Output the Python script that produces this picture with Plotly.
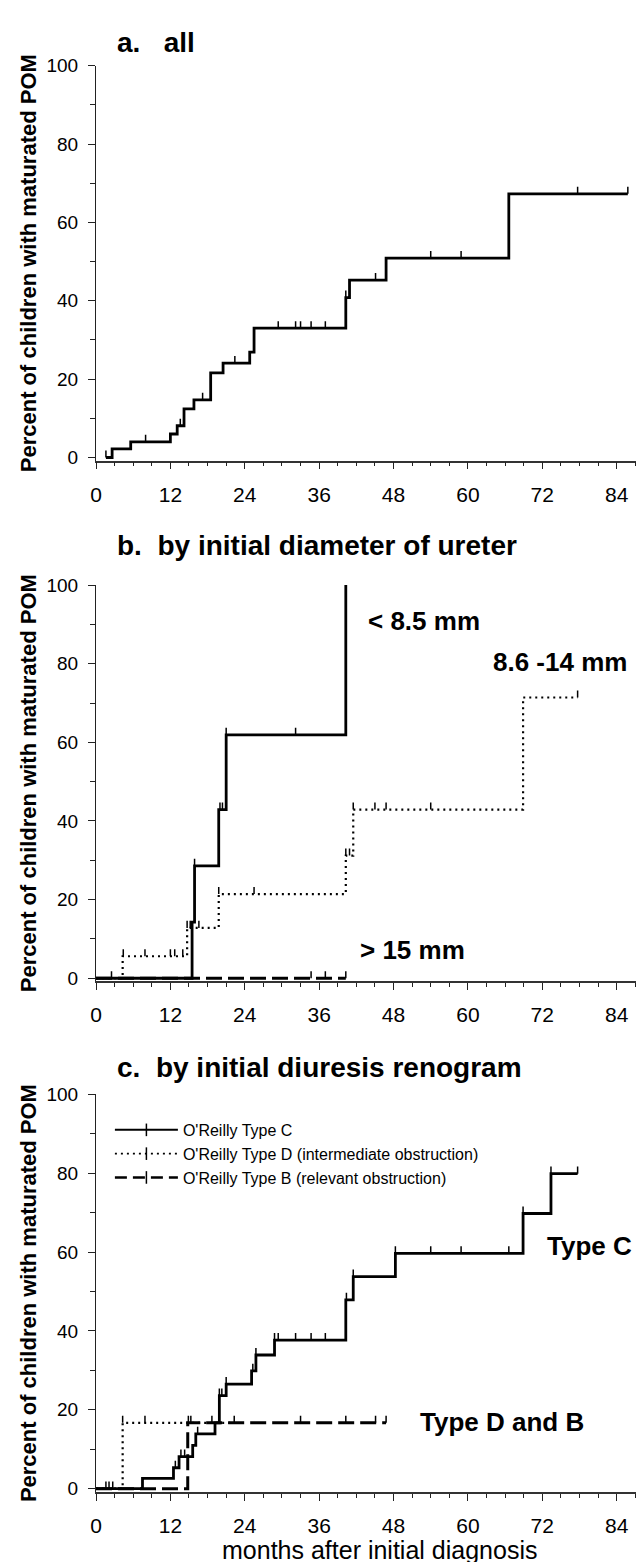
import plotly.graph_objects as go

# ---------------- data ----------------
# Panel a: all children (Kaplan-Meier cumulative incidence, %)
a_times = [1.6, 2.6, 5.6, 12.0, 13.1, 14.2, 15.8, 18.5, 20.5, 24.8, 25.5, 40.3, 40.9, 46.8, 66.6, 85.8]
a_vals = [0, 2.2, 4.0, 6.0, 8.1, 12.4, 14.7, 21.6, 24.1, 26.9, 33.0, 40.8, 45.3, 50.9, 67.3, 67.3]
a_cens = [1.6, 8.0, 13.6, 17.2, 22.4, 29.4, 32.2, 33.0, 34.7, 37.0, 40.3, 45.1, 54.0, 58.9, 77.7, 85.8]

# Panel b: by initial diameter of ureter
b1_times = [0, 15.5, 15.9, 19.8, 21.0, 40.3]          # < 8.5 mm
b1_vals = [0, 14.3, 28.6, 42.9, 61.9, 100]
b1_cens = [2.5, 15.9, 20.0, 20.4, 21.0, 32.2, 40.3]

b2_times = [0, 4.3, 14.7, 19.8, 40.3, 41.5, 68.9, 77.7]  # 8.6 - 14 mm
b2_vals = [0, 5.6, 12.8, 21.4, 31.2, 42.9, 71.4, 71.4]
b2_cens = [4.4, 7.9, 12.0, 12.7, 14.0, 14.7, 15.2, 16.6, 19.8, 25.5, 40.3, 40.9, 41.5, 45.0, 46.8, 54.0, 77.7]

b3_times = [0, 40.3]                                   # > 15 mm
b3_vals = [0, 0]
b3_cens = [34.7, 37.0, 40.3]

# Panel c: by initial diuresis renogram
cC_times = [0, 7.5, 12.5, 13.4, 15.6, 16.1, 19.2, 19.9, 21.0, 25.1, 25.8, 28.8, 40.3, 41.5, 48.3, 68.9, 73.4, 77.7]
cC_vals = [0, 2.6, 5.3, 8.1, 11.0, 13.9, 16.7, 23.6, 26.5, 29.9, 33.9, 37.7, 47.9, 53.8, 59.7, 69.8, 79.9, 79.9]
cC_cens = [1.6, 2.1, 2.7, 12.8, 13.7, 14.3, 16.4, 19.9, 20.3, 21.0, 25.3, 25.8, 28.8, 29.4, 32.2,
           34.7, 37.0, 40.4, 41.5, 48.3, 54.0, 58.9, 66.6, 68.9, 73.4, 77.7]

cD_times = [0, 4.3, 22.3]
cD_vals = [0, 16.7, 16.7]
cD_cens = [4.3, 7.9, 14.9, 18.7, 22.3]

cB_times = [0, 14.8, 46.8]
cB_vals = [0, 16.7, 16.7]
cB_cens = [15.3, 33.0, 40.3, 45.1, 46.8]

x_ticks = [0, 12, 24, 36, 48, 60, 72, 84]
y_ticks = [0, 20, 40, 60, 80, 100]

# ---------------- helpers ----------------
FONT = "Liberation Sans, Arial, Helvetica, sans-serif"
TICK_H = 1.8  # censor tick height in % units


def step_value(times, vals, t):
    v = vals[0]
    for ti, vi in zip(times, vals):
        if ti <= t + 1e-9:
            v = vi
    return v


def censor_xy(times, vals, cens):
    xs, ys = [], []
    for c in cens:
        s = step_value(times, vals, c)
        xs += [c, c, None]
        ys += [s, s + TICK_H, None]
    return xs, ys


fig = go.Figure()

STYLES = {
    "solid": dict(color="black", width=2.8),
    "dot": dict(color="black", width=2.2, dash="2px,4px"),
    "dash": dict(color="black", width=3, dash="16px,6px"),
}


def add_curve(times, vals, cens, style, xa, ya):
    fig.add_trace(go.Scatter(x=times, y=vals, mode="lines", line_shape="hv",
                             line=STYLES[style], showlegend=False,
                             xaxis=xa, yaxis=ya, hoverinfo="skip"))
    cx, cy = censor_xy(times, vals, cens)
    fig.add_trace(go.Scatter(x=cx, y=cy, mode="lines",
                             line=dict(color="black", width=1.5),
                             showlegend=False, xaxis=xa, yaxis=ya, hoverinfo="skip"))


add_curve(a_times, a_vals, a_cens, "solid", "x", "y")
add_curve(b3_times, b3_vals, b3_cens, "dash", "x2", "y2")
add_curve(b2_times, b2_vals, b2_cens, "dot", "x2", "y2")
add_curve(b1_times, b1_vals, b1_cens, "solid", "x2", "y2")
add_curve(cB_times, cB_vals, cB_cens, "dash", "x3", "y3")
add_curve(cD_times, cD_vals, cD_cens, "dot", "x3", "y3")
add_curve(cC_times, cC_vals, cC_cens, "solid", "x3", "y3")

# legend entries (panel c)
legend_names = ["O'Reilly Type C", "O'Reilly Type D (intermediate obstruction)",
                "O'Reilly Type B (relevant obstruction)"]
legend_styles = [dict(color="black", width=2), dict(color="black", width=1.8, dash="2px,4px"),
                 dict(color="black", width=2.5, dash="12px,6px")]
for name, ls in zip(legend_names, legend_styles):
    fig.add_trace(go.Scatter(x=[None], y=[None], mode="lines+markers", name=name,
                             line=ls, marker=dict(symbol="line-ns", size=9,
                                                  line=dict(color="black", width=1.5)),
                             xaxis="x3", yaxis="y3"))

# ---------------- layout ----------------
H, W = 1562, 644
L = 88
plot_w = W - L
domains = {
    "": [1 - 447.5 / H, 1 - 48.3 / H],
    "2": [1 - 974 / H, 1 - 573.3 / H],
    "3": [1 - 1490 / H, 1 - 1088.3 / H],
}

axis_common_x = dict(range=[0, 89.7], tickvals=x_ticks, ticks="outside", ticklen=7,
                     tickwidth=1.2, tickcolor="#222", showline=True, linecolor="#333",
                     linewidth=1.5, showgrid=False, zeroline=False,
                     tickfont=dict(family=FONT, size=21, color="black"),
                     ticklabelstandoff=7,
                     minor=dict(dtick=3, tick0=0, ticks="outside", ticklen=4,
                                tickwidth=1.2, tickcolor="#222"))
axis_common_y = dict(range=[-0.8, 100], tickvals=y_ticks, ticks="outside", ticklen=7,
                     tickwidth=1.2, tickcolor="#222", showline=True, linecolor="#222",
                     linewidth=1.2, showgrid=False, zeroline=False,
                     tickfont=dict(family=FONT, size=19, color="black"),
                     ticklabelstandoff=6,
                     minor=dict(dtick=10, tick0=0, ticks="outside", ticklen=5,
                                tickwidth=1.2, tickcolor="#222"))

layout = dict(width=W, height=H, margin=dict(l=L, r=0, t=0, b=0),
              paper_bgcolor="white", plot_bgcolor="white",
              font=dict(family=FONT, color="black"),
              legend=dict(x=0.025, y=1 - 1107 / H, xanchor="left", yanchor="top",
                          bgcolor="rgba(0,0,0,0)", itemwidth=63,
                          font=dict(family=FONT, size=16, color="black"),
                          tracegroupgap=0))
for k, dom in domains.items():
    layout["xaxis" + k] = dict(axis_common_x, domain=[0, 1], anchor="y" + k)
    layout["yaxis" + k] = dict(axis_common_y, domain=dom, anchor="x" + k)
fig.update_layout(**layout)

# panel titles
titles = [("a.\u00a0\u00a0\u00a0all", 25), ("b.\u00a0\u00a0by initial diameter of ureter", 533),
          ("c.\u00a0\u00a0by initial diuresis renogram", 1061)]
for text, py in titles:
    fig.add_annotation(text="<b>" + text + "</b>", xref="paper", yref="paper",
                       x=(107 - L) / plot_w, y=1 - py / H, xanchor="left", yanchor="middle",
                       showarrow=False, font=dict(family=FONT, size=28, color="black"))

# y axis titles
for k, dom in domains.items():
    fig.add_annotation(text="<b>Percent of children with maturated POM</b>", xref="paper",
                       yref="paper", x=(20 - L) / plot_w, y=(dom[0] + dom[1]) / 2,
                       xanchor="center", yanchor="middle", textangle=-90, showarrow=False,
                       font=dict(family=FONT, size=22, color="black"))

# x axis title (bottom panel)
fig.add_annotation(text="months after initial diagnosis", xref="paper", yref="paper",
                   x=0.51, y=1 - 1549 / H, xanchor="center", yanchor="middle",
                   showarrow=False, font=dict(family=FONT, size=25, color="black"))

# curve labels
labels = [("< 8.5 mm", 43.6, 90.9, "x2", "y2"), ("8.6 -14 mm", 63.8, 80.4, "x2", "y2"),
          ("> 15 mm", 42.3, 7.3, "x2", "y2"), ("Type C", 72.4, 61.5, "x3", "y3"),
          ("Type D and B", 51.9, 17.0, "x3", "y3")]
for text, lx, ly, xr, yr in labels:
    fig.add_annotation(text="<b>" + text + "</b>", xref=xr, yref=yr, x=lx, y=ly,
                       xanchor="left", yanchor="middle", showarrow=False,
                       font=dict(family=FONT, size=26, color="black"))

fig.write_html("out.html")
